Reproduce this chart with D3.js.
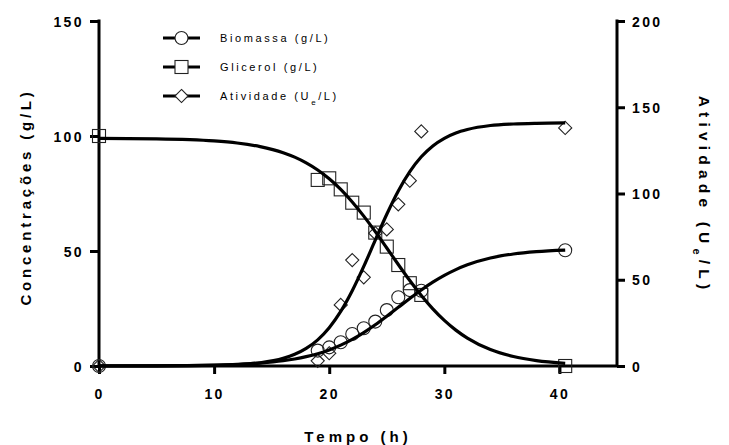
<!DOCTYPE html>
<html><head><meta charset="utf-8">
<script src="https://cdn.jsdelivr.net/npm/d3@7"></script>
<style>
html,body{margin:0;padding:0;background:#fff;}
svg{display:block;font-family:"Liberation Sans",Arial,sans-serif;}
</style></head>
<body><svg id="chart" width="729" height="445"></svg>
<script>
// ---- data ----
const xTicks = [0, 10, 20, 30, 40];
const leftTicks = [0, 50, 100, 150];
const rightTicks = [0, 50, 100, 150, 200];

const sampleTimes = [0, 19, 20, 21, 22, 23, 24, 25, 26, 27, 28, 40.5];
const biomassValues = [0, 6.7, 8.1, 10.3, 13.9, 16.4, 19.3, 24.3, 29.9, 33.0, 32.7, 50.3];
const glycerolValues = [100, 80.9, 81.6, 76.8, 71.0, 66.7, 58.0, 51.9, 43.9, 36.0, 30.9, 0];
const activityValues = [0, 3, 7.4, 35.4, 61.4, 51.4, 77, 79.2, 93.7, 107.4, 136, 138];

// fitted curves at these times
const curveTimes = [0, 5, 10, 12, 14, 16, 17, 18, 19, 20, 21, 22, 23, 24, 25, 26, 27, 28, 29, 30, 31, 32, 34, 36, 38, 40.5];
const biomassCurve = [0.02, 0.08, 0.38, 0.69, 1.27, 2.29, 3.05, 4.06, 5.36, 7.01, 9.07, 11.59, 14.55, 17.93, 21.63, 25.5, 29.37, 33.07, 36.45, 39.41, 41.92, 43.99, 46.94, 48.71, 49.74, 50.4];
const glycerolCurve = [98.94, 98.73, 97.85, 96.96, 95.4, 92.74, 90.8, 88.32, 85.22, 81.38, 76.76, 71.33, 65.17, 58.41, 51.3, 44.12, 37.15, 30.66, 24.86, 19.82, 15.6, 12.14, 7.16, 4.13, 2.35, 1.15];
const activityCurve = [0.004, 0.04, 0.33, 0.79, 1.89, 4.44, 6.76, 10.19, 15.18, 22.19, 31.62, 43.6, 57.71, 72.96, 88.0, 101.5, 112.7, 121.3, 127.6, 132.0, 135.1, 137.1, 139.4, 140.3, 140.7, 140.9];

const legendNames = ["Biomassa (g/L)", "Glicerol (g/L)", "Atividade (U"];

// ---- layout ----
const svg = d3.select("#chart");
const L = 99, R = 617, T = 21, B = 366;
const x = d3.scaleLinear().domain([0, 45]).range([L, R]);
const yL = d3.scaleLinear().domain([0, 150]).range([B, T]);
const yR = d3.scaleLinear().domain([0, 200]).range([B, T]);

const tickFont = "bold 14px 'Liberation Sans', Arial, sans-serif";

function styleAxis(g) {
  g.select(".domain").attr("stroke", "#000").attr("stroke-width", 3);
  g.selectAll(".tick line").attr("stroke", "#000").attr("stroke-width", 3);
  g.selectAll(".tick text").style("font", tickFont).style("letter-spacing", "2.4px").attr("fill", "#000");
}

// x axis
const gx = svg.append("g").attr("transform", `translate(0,${B})`)
  .call(d3.axisBottom(x).tickValues(xTicks).tickFormat(d3.format("d")).tickSizeOuter(0).tickSize(8).tickPadding(15));
styleAxis(gx);
gx.select(".domain").attr("d", `M${L},0H${R}`);

// left axis
const gl = svg.append("g").attr("transform", `translate(${L},0)`)
  .call(d3.axisLeft(yL).tickValues(leftTicks).tickFormat(d3.format("d")).tickSizeOuter(0).tickSize(9).tickPadding(6));
styleAxis(gl);
gl.select(".domain").attr("d", `M0,${T-1.5}V${B}`);
gl.selectAll(".tick text").attr("dy", "0.36em");

// right axis
const gr = svg.append("g").attr("transform", `translate(${R},0)`)
  .call(d3.axisRight(yR).tickValues(rightTicks).tickFormat(d3.format("d")).tickSizeOuter(0).tickSize(8).tickPadding(7));
styleAxis(gr);
gr.select(".domain").attr("d", `M0,${T-1.5}V${B}`);
gr.selectAll(".tick text").attr("dy", "0.36em");

// curves
const lineL = d3.line().x((d) => x(d[0])).y((d) => yL(d[1])).curve(d3.curveMonotoneX);
const lineR = d3.line().x((d) => x(d[0])).y((d) => yR(d[1])).curve(d3.curveMonotoneX);
const zipC = (vals) => curveTimes.map((t, i) => [t, vals[i]]);
const zipS = (vals) => sampleTimes.map((t, i) => [t, vals[i]]);

// markers
const mk = svg.append("g").attr("fill", "none").attr("stroke", "#222").attr("stroke-width", 1.1);
mk.selectAll("circle.bio").data(zipS(biomassValues)).join("circle")
  .attr("cx", (d) => x(d[0])).attr("cy", (d) => yL(d[1])).attr("r", 6.5);
mk.selectAll("rect.gly").data(zipS(glycerolValues)).join("rect")
  .attr("x", (d) => x(d[0]) - 6.5).attr("y", (d) => yL(d[1]) - 6.5).attr("width", 13).attr("height", 13);
const diamond = d3.symbol().type(d3.symbolDiamond2).size(110);
mk.selectAll("path.act").data(zipS(activityValues)).join("path")
  .attr("transform", (d) => `translate(${x(d[0])},${yR(d[1])})`).attr("d", diamond);

const lines = svg.append("g").attr("fill", "none").attr("stroke", "#000").attr("stroke-width", 3.2);
lines.append("path").attr("d", lineL(zipC(biomassCurve)));
lines.append("path").attr("d", lineL(zipC(glycerolCurve)));
lines.append("path").attr("d", lineR(zipC(activityCurve)));

// legend
const lg = svg.append("g");
const legendY = [38, 67, 96];
legendNames.forEach((name, i) => {
  const y = legendY[i];
  lg.append("line").attr("x1", 163).attr("x2", 200).attr("y1", y).attr("y2", y).attr("stroke", "#000").attr("stroke-width", 3.2);
  const m = lg.append("g").attr("fill", "#fff").attr("stroke", "#222").attr("stroke-width", 1.1);
  if (i === 0) m.append("circle").attr("cx", 181.5).attr("cy", y).attr("r", 6.5);
  if (i === 1) m.append("rect").attr("x", 175).attr("y", y - 6.5).attr("width", 13).attr("height", 13);
  if (i === 2) m.append("path").attr("transform", `translate(181.5,${y})`).attr("d", diamond);
  const t = lg.append("text").attr("x", 220).attr("y", y + 4)
    .style("font", "11px 'Liberation Sans', Arial, sans-serif").style("letter-spacing", "2.6px").attr("fill", "#000")
    .text(name);
  if (i === 2) {
    t.append("tspan").attr("baseline-shift", "sub").style("font-size", "8px").text("e");
    t.append("tspan").text("/L)");
  }
});

// axis titles
svg.append("text").attr("x", 358).attr("y", 442).attr("text-anchor", "middle")
  .style("font", "bold 15px 'Liberation Sans', Arial, sans-serif").style("letter-spacing", "4px").text("Tempo (h)");

svg.append("text").attr("transform", "translate(31,197) rotate(-90)").attr("text-anchor", "middle")
  .style("font", "bold 15px 'Liberation Sans', Arial, sans-serif").style("letter-spacing", "3.8px").text("Concentrações (g/L)");

const rt = svg.append("text").attr("transform", "translate(699,195) rotate(90)").attr("text-anchor", "middle")
  .style("font", "bold 15.5px 'Liberation Sans', Arial, sans-serif").style("letter-spacing", "5.2px");
rt.append("tspan").text("Atividade (U");
rt.append("tspan").attr("baseline-shift", "sub").style("font-size", "11px").text("e");
rt.append("tspan").text("/L)");
</script></body></html>
